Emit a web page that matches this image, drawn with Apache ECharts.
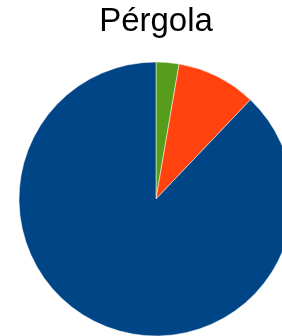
<!DOCTYPE html>
<html><head><meta charset="utf-8">
<script src="https://cdn.jsdelivr.net/npm/echarts@6/dist/echarts.min.js"></script>
<style>html,body{margin:0;padding:0;background:#fff}#c{width:282px;height:336px}</style>
</head><body><div id="c"></div>
<script>
var titleText = "Pérgola";
var categories = ["Verde", "Naranja", "Azul"];
var values = [2.7, 9.4, 87.9];
var colors = ["#579d1c", "#ff420e", "#004586"];

var chart = echarts.init(document.getElementById('c'), null, {renderer: 'canvas'});
chart.setOption({
  animation: false,
  graphic: [{
    type: 'text', x: 156, y: 5,
    style: {text: titleText, x: 0, y: 0, align: 'center', verticalAlign: 'top',
      fontFamily: 'Liberation Sans', fontSize: 33, fill: '#000'}
  }],
  series: [{
    type: 'pie',
    center: [156, 199],
    radius: 137,
    startAngle: 90,
    clockwise: true,
    label: {show: false},
    labelLine: {show: false},
    itemStyle: {borderColor: '#ffffff', borderWidth: 0.5},
    emphasis: {disabled: true},
    data: categories.map(function (c, i) {
      return {name: c, value: values[i], itemStyle: {color: colors[i]}};
    })
  }]
});
</script></body></html>
